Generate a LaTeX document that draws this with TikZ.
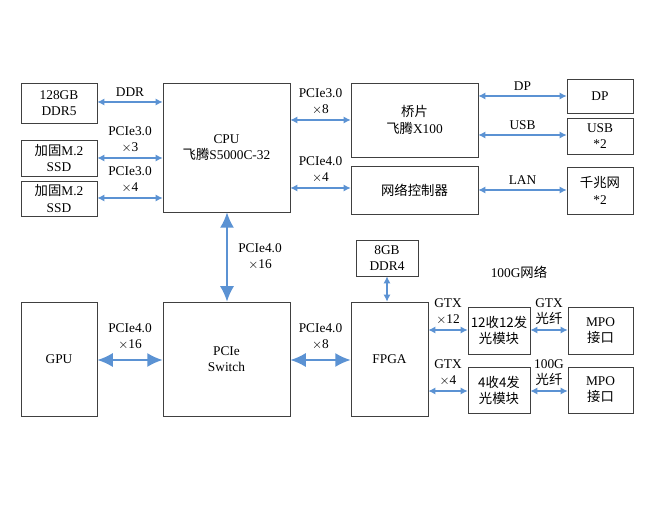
\documentclass[tikz,border=0pt]{standalone}
\usepackage{fontspec}
\setmainfont{Liberation Serif}
\newfontfamily\cjk{Noto Sans CJK SC}
\usetikzlibrary{arrows.meta,positioning}
\definecolor{linkblue}{RGB}{91,146,211}
\tikzset{
  box/.style={draw=black!75, align=center, inner sep=0pt, font=\fontsize{9.5}{11.5}\selectfont},
  lbl/.style={align=center, font=\fontsize{9.5}{11.5}\selectfont},
  link/.style={draw=linkblue, line width=0.9pt, {Latex[length=5pt,width=5pt]}-{Latex[length=5pt,width=5pt]}},
  bus/.style={draw=linkblue, line width=1.4pt, {Latex[length=11pt,width=10pt]}-{Latex[length=11pt,width=10pt]}}
}
\newcommand{\mkbox}[6]{\node[box, minimum width={(#4-#2)*0.025cm}, minimum height={(#5-#3)*0.025cm}] (#1) at ({(#2+#4)/2},{(#3+#5)/2}) {#6};}
\begin{document}
\begin{tikzpicture}[x=0.025cm, y=-0.025cm]
  \useasboundingbox (0,0) rectangle (656,530);
  % Place nodes
  \mkbox{ddr5}{21}{83}{97}{123}{128GB\\DDR5}
  \mkbox{ssda}{21}{140}{97}{176}{{\cjk 加固}M.2\\SSD}
  \mkbox{ssdb}{21}{181}{97}{216}{{\cjk 加固}M.2\\SSD}
  \mkbox{cpu}{163}{83}{290}{212}{CPU\\{\cjk 飞腾}S5000C-32}
  \mkbox{bridge}{351}{83}{478}{157}{{\cjk 桥片}\\{\cjk 飞腾}X100}
  \mkbox{nic}{351}{166}{478}{214}{\cjk 网络控制器}
  \mkbox{dp}{567}{79}{633}{113}{DP}
  \mkbox{usb}{567}{118}{633}{154}{USB\\*2}
  \mkbox{gbe}{567}{167}{633}{214}{{\cjk 千兆网}\\*2}
  \mkbox{gpu}{21}{302}{97}{416}{GPU}
  \mkbox{switch}{163}{302}{290}{416}{PCIe\\Switch}
  \mkbox{fpga}{351}{302}{428}{416}{FPGA}
  \mkbox{ddr4}{356}{240}{418}{276}{8GB\\DDR4}
  \mkbox{opta}{468}{307}{530}{354}{{\cjk 12收12发}\\{\cjk 光模块}}
  \mkbox{optb}{468}{367}{530}{413}{{\cjk 4收4发}\\{\cjk 光模块}}
  \mkbox{mpoa}{568}{307}{633}{354}{MPO\\{\cjk 接口}}
  \mkbox{mpob}{568}{367}{633}{413}{MPO\\{\cjk 接口}}
  \node[lbl] (net100) at (519,272) {100G{\cjk 网络}};

  % Links
  \path[link] (ddr5.east |- 0,102) -- node[lbl, above] {DDR} (cpu.west |- 0,102);
  \path[link] (ssda.east |- 0,158) -- node[lbl, above] {PCIe3.0\\$\times$3} (cpu.west |- 0,158);
  \path[link] (ssdb.east |- 0,198) -- node[lbl, above] {PCIe3.0\\$\times$4} (cpu.west |- 0,198);
  \path[link] (cpu.east |- 0,120) -- node[lbl, above] {PCIe3.0\\$\times$8} (bridge.west |- 0,120);
  \path[link] (cpu.east |- 0,188) -- node[lbl, above] {PCIe4.0\\$\times$4} (nic.west |- 0,188);
  \path[link] (bridge.east |- 0,96) -- node[lbl, above] {DP} (dp.west |- 0,96);
  \path[link] (bridge.east |- 0,135) -- node[lbl, above] {USB} (usb.west |- 0,135);
  \path[link] (nic.east |- 0,190) -- node[lbl, above] {LAN} (gbe.west |- 0,190);
  \path[bus] (cpu.south -| 227,0) -- node[lbl, right=4pt] {PCIe4.0\\$\times$16} (switch.north -| 227,0);
  \path[bus] (gpu.east |- 0,360) -- node[lbl, above=3pt] {PCIe4.0\\$\times$16} (switch.west |- 0,360);
  \path[bus] (switch.east |- 0,360) -- node[lbl, above=3pt] {PCIe4.0\\$\times$8} (fpga.west |- 0,360);
  \path[link] (ddr4.south -| 387,0) -- (fpga.north -| 387,0);
  \path[link] (fpga.east |- 0,330) -- node[lbl, above] {GTX\\$\times$12} (opta.west |- 0,330);
  \path[link] (fpga.east |- 0,391) -- node[lbl, above] {GTX\\$\times$4} (optb.west |- 0,391);
  \path[link] (opta.east |- 0,330) -- node[lbl, above] {GTX\\{\cjk 光纤}} (mpoa.west |- 0,330);
  \path[link] (optb.east |- 0,391) -- node[lbl, above] {100G\\{\cjk 光纤}} (mpob.west |- 0,391);
\end{tikzpicture}
\end{document}
